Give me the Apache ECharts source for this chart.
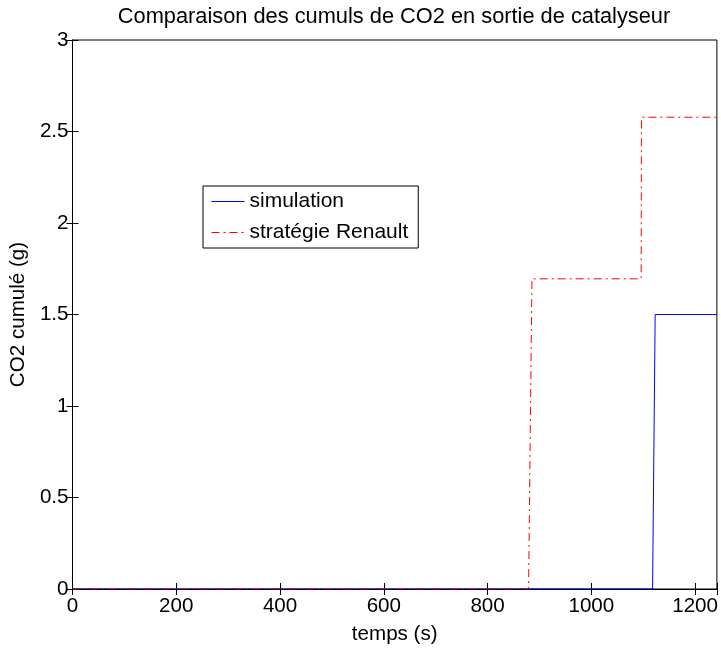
<!DOCTYPE html>
<html>
<head>
<meta charset="utf-8">
<script src="https://cdn.jsdelivr.net/npm/echarts@6/dist/echarts.min.js"></script>
<style>html,body{margin:0;padding:0;background:#fff}#c{width:721px;height:650px}</style>
</head>
<body>
<div id="c"></div>
<script>
const titleText = 'Comparaison des cumuls de CO2 en sortie de catalyseur';
const xName = 'temps (s)';
const yName = 'CO2 cumulé (g)';
const simName = 'simulation';
const renName = 'stratégie Renault';
const simX = [0, 1118, 1123, 1242];
const simY = [0, 0, 1.5, 1.5];
const renX = [0, 879, 885.5, 1096, 1096.5, 1242];
const renY = [0, 0, 1.695, 1.695, 2.578, 2.578];

const F = 'Liberation Sans, Arial, Helvetica, sans-serif';
const FS = 20.6;
const simColor = '#0000ff';
const renColor = '#ff0000';
const renDash = [8, 4, 2, 4];
const pairs = (xs, ys) => xs.map((x, i) => [x, ys[i]]);

const chart = echarts.init(document.getElementById('c'));
const tickIn = {show: true, inside: true, length: 6, lineStyle: {color: '#000', width: 1}};
chart.setOption({
  animation: false,
  backgroundColor: '#fff',
  title: {text: titleText, left: 389, textAlign: 'center', top: 1,
    textStyle: {fontFamily: F, fontSize: 21.8, fontWeight: 'normal', color: '#000'}},
  grid: {left: 72, right: 4, top: 40, bottom: 56, show: true, borderColor: '#000', borderWidth: 1, backgroundColor: 'transparent'},
  legend: {
    orient: 'vertical', left: 203, top: 186, padding: [5, 10, 5, 8], itemGap: 10,
    itemWidth: 33, itemHeight: 14,
    itemStyle: {opacity: 0},
    backgroundColor: '#fff', borderColor: '#000', borderWidth: 1,
    textStyle: {fontFamily: F, fontSize: 21, color: '#000'},
    data: [
      {name: simName, lineStyle: {color: simColor, width: 1}},
      {name: renName, lineStyle: {color: renColor, width: 1, type: renDash}}
    ]
  },
  xAxis: [{
    type: 'value', min: 0, max: 1242, interval: 200,
    name: xName, nameLocation: 'middle', nameGap: 35,
    nameTextStyle: {fontFamily: F, fontSize: FS, color: '#000'},
    axisLine: {show: true, lineStyle: {color: '#000'}},
    axisTick: tickIn, splitLine: {show: false},
    axisLabel: {fontFamily: F, fontSize: FS, color: '#000', margin: 7,
      formatter: v => (v % 200 === 0 ? String(v) : '')}
  }, {
    type: 'value', min: 0, max: 1242, interval: 200, position: 'top',
    axisLine: {show: true, lineStyle: {color: '#000'}},
    axisTick: tickIn, axisLabel: {show: false}, splitLine: {show: false}
  }],
  yAxis: [{
    type: 'value', min: 0, max: 3, interval: 0.5,
    name: yName, nameLocation: 'middle', nameGap: 39, nameRotate: 90,
    nameTextStyle: {fontFamily: F, fontSize: FS, color: '#000'},
    axisLine: {show: true, lineStyle: {color: '#000'}},
    axisTick: tickIn, splitLine: {show: false},
    axisLabel: {fontFamily: F, fontSize: FS, color: '#000', margin: 4}
  }, {
    type: 'value', min: 0, max: 3, interval: 0.5, position: 'right',
    axisLine: {show: true, lineStyle: {color: '#000'}},
    axisTick: tickIn, axisLabel: {show: false}, splitLine: {show: false}
  }],
  series: [{
    name: simName, type: 'line', data: pairs(simX, simY), showSymbol: false, symbol: 'none',
    lineStyle: {color: simColor, width: 1}, itemStyle: {color: simColor}, z: 3
  }, {
    name: renName, type: 'line', data: pairs(renX, renY), showSymbol: false, symbol: 'none',
    lineStyle: {color: renColor, width: 1, type: renDash}, itemStyle: {color: renColor}, z: 4
  }]
});
</script>
</body>
</html>
